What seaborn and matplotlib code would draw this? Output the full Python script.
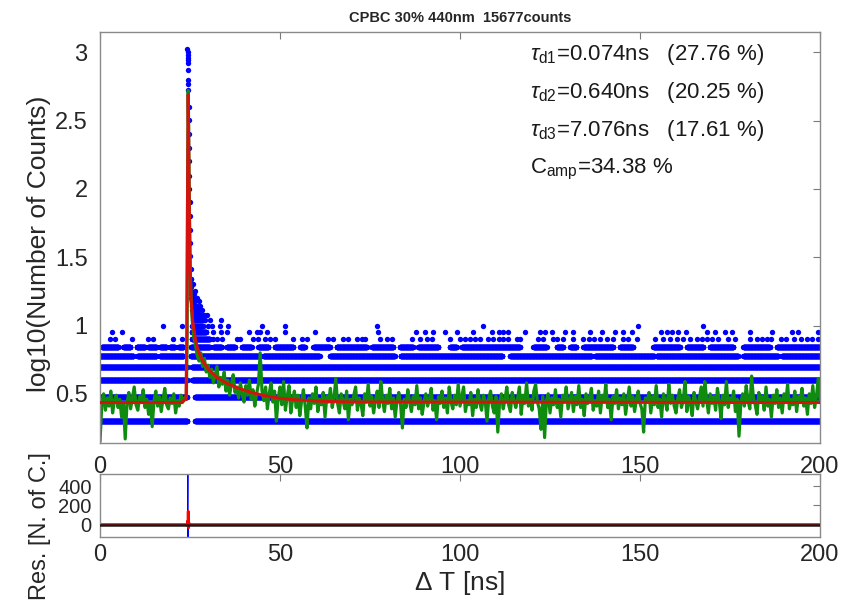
import matplotlib
matplotlib.use('Agg')

import numpy as np
import pandas as pd
import matplotlib.pyplot as plt
import seaborn as sns

# ---- data ---------------------------------------------------------------
channel_ns = 200.0 / 4096          # width of one time channel

# dense bands of photon counts (count level -> time segments in ns)
seg_c2 = [(0, 24.3), (26.4, 200)]
seg_c3 = [(0, 24.2), (26.4, 200)]
seg_c4 = [(0, 24.3), (25.6, 200)]
seg_c5 = [(0, 24.3), (25.5, 200)]
seg_c6 = [(0, 9.3), (10.4, 15.7), (16.6, 23.2), (25.2, 44.4), (45.4, 61.0),
          (63.9, 81.9), (83.5, 111.8), (113.9, 136.6), (137.5, 154.0),
          (154.6, 177.3), (178.7, 188.4), (189.4, 200)]
seg_c7 = [(0.5, 5.1), (6.5, 8.5), (10.2, 12.5), (13.4, 15.7), (16.7, 18.5),
          (19.4, 20.8), (21.8, 23.2), (25.3, 30.5), (31.5, 33.8), (35.2, 37.5),
          (39.4, 42.1), (44.0, 46.8), (48.6, 53.7), (55.6, 56.9), (59.3, 63.9),
          (65.7, 74.1), (75.5, 81.5), (83.3, 87.0), (88.4, 94.0), (97.2, 99.1),
          (100.5, 116.7), (120.4, 124.1), (126.9, 128.7), (130.6, 132.4),
          (134.3, 142.6), (144.4, 148.1), (153.7, 161.1), (163.0, 167.6),
          (169.4, 175.9), (178.7, 186.1), (188.0, 200)]
seg_c8 = [(25.5, 30.5)]
seg_c9 = [(25.5, 29.5)]
seg_c10 = [(25.6, 28.6)]

# sparse single channels
dots_c8 = [2.8, 4.2, 8.8, 13.4, 14.8, 20.4, 22.7, 31.5, 32.4, 33.8, 38.0, 38.9,
           42.6, 44.0, 45.8, 47.2, 48.6, 53.7, 56.0, 57.4, 63.4, 64.8, 67.6,
           69.0, 71.3, 72.7, 73.6, 77.8, 79.6, 81.0, 86.6, 88.9, 90.7, 92.1,
           97.2, 100.0, 101.4, 102.8, 104.2, 105.6, 107.9, 109.3, 110.7, 112.0,
           113.4, 115.7, 116.7, 121.8, 123.1, 125.9, 126.9, 128.7, 131.5, 134.3,
           135.7, 137.1, 138.9, 140.7, 142.6, 145.4, 146.8, 149.1, 154.2, 156.5,
           158.3, 160.2, 162.0, 163.9, 165.7, 167.1, 168.5, 169.9, 171.8, 174.5,
           176.4, 180.6, 182.4, 183.8, 185.2, 186.3, 189.1, 190.5, 192.8, 194.6,
           196.4, 197.8, 199.5]
dots_c9 = [3.2, 6.0, 31.5, 33.5, 35.2, 41.3, 43.5, 44.4, 46.3, 51.4, 59.7, 77.3,
           87.9, 90.3, 92.6, 95.8, 99.1, 103.7, 108.8, 110.7, 112.0, 113.4,
           118.0, 122.2, 123.6, 125.5, 129.2, 131.5, 136.1, 139.4, 143.1, 145.4,
           147.7, 155.8, 157.4, 159.0, 160.6, 162.9, 168.5, 170.8, 173.6, 175.5,
           180.6, 186.6, 192.1, 194.0, 199.5]
dots_c10 = [17.6, 22.7, 30.0, 31.0, 33.3, 35.6, 44.9, 51.4, 76.9, 106.5, 149.5, 167.6]

# channels around the excitation peak
peak_t = [24.30, 24.33, 24.36, 24.39, 24.42, 24.45, 24.48, 24.51, 24.54, 24.57,
          24.60, 24.63, 24.66, 24.70, 24.74, 24.78, 24.82, 24.87, 24.92, 24.98,
          25.05, 25.12, 25.20, 25.30, 25.40, 25.50, 25.60, 25.70,
          25.8, 26.3, 26.8, 27.3, 27.8, 28.3, 28.8, 29.3, 30.6, 33.5,
          25.7, 26.2, 26.7, 27.2, 27.7, 28.2, 29.0, 29.8,
          25.6, 26.1, 26.6, 27.1, 27.6, 28.4,
          25.5, 26.0, 26.5, 27.0, 27.9,
          25.45, 25.9, 26.4, 27.4, 25.4, 25.95, 26.9, 25.35, 26.0, 25.3, 26.3,
          25.25, 25.9, 25.2]
peak_c = [1047, 1000, 955, 912, 871, 832, 741, 631, 589, 525,
          400, 320, 250, 200, 160, 125, 100, 80, 63, 50,
          40, 32, 26, 22, 19, 17, 15, 14,
          11, 11, 11, 11, 11, 11, 11, 11, 11, 11,
          12, 12, 12, 12, 12, 12, 12, 12,
          13, 13, 13, 13, 13, 13,
          14, 14, 14, 14, 14,
          15, 15, 15, 15, 16, 16, 16, 17, 17, 18, 18,
          20, 20, 22]

# smoothed decay (green), 0.5 ns steps before and after the rise
green_pre_y = [0.15, 0.42, 0.50, 0.38, 0.47, 0.41, 0.52, 0.36, 0.45, 0.49,
               0.40, 0.46, 0.33, 0.44, 0.17, 0.43, 0.51, 0.39, 0.47, 0.55,
               0.42, 0.38, 0.48, 0.44, 0.53, 0.40, 0.46, 0.35, 0.43, 0.26,
               0.45, 0.52, 0.41, 0.48, 0.37, 0.46, 0.54, 0.42, 0.39, 0.47,
               0.43, 0.50, 0.36, 0.45, 0.41, 0.49, 0.44, 0.47]
green_peak_t = [24.0, 24.2, 24.35, 24.5, 24.6, 24.75, 24.9, 25.1, 25.3, 25.6,
                26.0, 26.5, 27.0]
green_peak_y = [0.48, 0.95, 2.1, 2.72, 2.5, 2.05, 1.7, 1.38, 1.2, 1.05,
                0.92, 0.86, 0.78]
green_post_y = [0.74, 0.80, 0.70, 0.76, 0.66, 0.71, 0.62, 0.68, 0.58, 0.64,
                0.70, 0.55, 0.62, 0.57, 0.66, 0.52, 0.60, 0.49, 0.57, 0.64,
                0.51, 0.55, 0.47, 0.58, 0.50, 0.44, 0.56, 0.49, 0.60, 0.46,
                0.53, 0.41, 0.50, 0.57, 0.80, 0.52, 0.45, 0.55, 0.39, 0.50,
                0.58, 0.44, 0.52, 0.30, 0.47, 0.55,
                0.42, 0.59, 0.38, 0.48, 0.56, 0.36, 0.46, 0.52, 0.40, 0.49,
                0.34, 0.45, 0.53, 0.41, 0.25, 0.47, 0.39, 0.50, 0.43, 0.55,
                0.37, 0.46, 0.42, 0.51, 0.33, 0.48, 0.44, 0.54, 0.40, 0.47,
                0.61, 0.43, 0.36, 0.50, 0.45, 0.39, 0.52, 0.31, 0.46, 0.42,
                0.49, 0.55, 0.38, 0.47, 0.43, 0.34, 0.50, 0.44, 0.57, 0.41,
                0.48, 0.36, 0.45, 0.52, 0.40, 0.59, 0.46, 0.37, 0.49, 0.43,
                0.54, 0.39, 0.47, 0.33, 0.45, 0.51, 0.42, 0.25, 0.46, 0.40,
                0.53, 0.44, 0.37, 0.48, 0.42, 0.56, 0.39, 0.47, 0.35, 0.44,
                0.50, 0.41, 0.46, 0.54, 0.38, 0.45, 0.31, 0.48, 0.43, 0.52,
                0.40, 0.47, 0.36, 0.55, 0.44, 0.39, 0.49, 0.42, 0.57, 0.41,
                0.48, 0.55, 0.37, 0.45, 0.42, 0.51, 0.34, 0.46, 0.40, 0.53,
                0.43, 0.38, 0.49, 0.45, 0.30, 0.47, 0.52, 0.41, 0.36, 0.48,
                0.22, 0.44, 0.50, 0.39, 0.46, 0.55, 0.42, 0.37, 0.51, 0.45,
                0.40, 0.47, 0.55, 0.35, 0.49, 0.43, 0.58, 0.41, 0.46, 0.38,
                0.52, 0.57, 0.44, 0.39, 0.24, 0.48, 0.18, 0.45, 0.50, 0.36,
                0.47, 0.42, 0.53, 0.40, 0.46, 0.33, 0.49, 0.44, 0.55, 0.39,
                0.45, 0.51, 0.37, 0.48, 0.42, 0.56, 0.40, 0.46, 0.34, 0.50,
                0.43, 0.47, 0.54, 0.38, 0.45, 0.41, 0.52, 0.36, 0.49, 0.44,
                0.57, 0.40, 0.46, 0.31, 0.48, 0.43, 0.53, 0.39, 0.47, 0.42,
                0.50, 0.35, 0.45, 0.55, 0.41, 0.48, 0.37, 0.46, 0.52, 0.43,
                0.39, 0.22, 0.47, 0.44, 0.51, 0.36, 0.48, 0.42, 0.56, 0.40,
                0.46, 0.33, 0.50, 0.45, 0.38, 0.57, 0.43, 0.49, 0.41, 0.36,
                0.47, 0.53, 0.40, 0.45, 0.59, 0.37, 0.48, 0.43, 0.34, 0.51,
                0.44, 0.39, 0.47, 0.55, 0.41, 0.59, 0.46, 0.36, 0.50, 0.43,
                0.48, 0.38, 0.54, 0.45, 0.32, 0.49, 0.42, 0.59, 0.40, 0.47,
                0.44, 0.52, 0.37, 0.46, 0.19, 0.43, 0.50, 0.41, 0.56, 0.45,
                0.39, 0.63, 0.47, 0.42, 0.35, 0.51, 0.44, 0.48, 0.38, 0.55,
                0.41, 0.46, 0.33, 0.49, 0.43, 0.53, 0.40, 0.47, 0.36, 0.50,
                0.44, 0.57, 0.39, 0.46, 0.42, 0.52, 0.37, 0.48, 0.45, 0.54,
                0.41, 0.47, 0.35, 0.50, 0.43, 0.56, 0.40, 0.48, 0.61, 0.45]

# fitted curve (red)
fit_t = [0, 22.8, 23.2, 23.9, 24.1, 24.3, 24.5, 24.6, 24.8, 25.0, 25.3, 25.7,
         26.3, 27.0, 27.8, 29.0, 30.5, 32.5, 35.0, 38.0, 42.0, 46.0, 50.0, 55.0,
         62.0, 70.0, 200]
fit_y = [0.436, 0.436, 0.45, 0.46, 0.9, 1.9, 2.69, 2.45, 1.9, 1.45, 1.2, 1.04,
         0.93, 0.84, 0.78, 0.72, 0.67, 0.62, 0.58, 0.545, 0.51, 0.485, 0.467,
         0.455, 0.445, 0.44, 0.436]

# residuals
res_t = [0, 24.0, 24.3, 24.4, 24.45, 24.5, 24.6, 24.7, 24.8, 25.0, 200]
res_blue = [0, 0, -20, 530, -128, 60, -30, 10, -5, 0, 0]
res_red = [0, 0, -10, 40, 20, 139, -35, 20, -5, 0, 0]

title = 'CPBC 30% 440nm  15677counts'
fit_labels = [r'$\tau_{\mathrm{d1}}$=0.074ns   (27.76 %)',
              r'$\tau_{\mathrm{d2}}$=0.640ns   (20.25 %)',
              r'$\tau_{\mathrm{d3}}$=7.076ns   (17.61 %)',
              r'C$_{\mathrm{amp}}$=34.38 %']
fit_label_y = [2.945, 2.665, 2.385, 2.11]


def expand(segments):
    return np.concatenate([np.arange(a, b, channel_ns) for a, b in segments])


rows = []
for count, segs in [(2, seg_c2), (3, seg_c3), (4, seg_c4), (5, seg_c5),
                    (6, seg_c6), (7, seg_c7), (8, seg_c8), (9, seg_c9),
                    (10, seg_c10)]:
    for t in expand(segs):
        rows.append((t, count))
for count, ts in [(8, dots_c8), (9, dots_c9), (10, dots_c10)]:
    for t in ts:
        rows.append((t, count))
for t, c in zip(peak_t, peak_c):
    rows.append((t, c))
counts = pd.DataFrame(rows, columns=['t', 'counts'])
counts['logc'] = np.log10(counts['counts'])

green_t = np.concatenate([np.arange(0, 24, 0.5), green_peak_t,
                          np.arange(27.5, 200.25, 0.5)])
green_y = np.concatenate([green_pre_y, green_peak_y, green_post_y])
green = pd.DataFrame({'t': green_t, 'y': green_y})
fit = pd.DataFrame({'t': fit_t, 'y': fit_y})
res = pd.DataFrame({'t': res_t, 'blue': res_blue, 'red': res_red})

# ---- plotting -------------------------------------------------------------
sns.set_theme(style='white')
plt.rcParams['font.family'] = ['Liberation Sans', 'DejaVu Sans']
plt.rcParams['mathtext.fontset'] = 'custom'
plt.rcParams['mathtext.rm'] = 'Liberation Sans'
plt.rcParams['mathtext.it'] = 'Liberation Sans:italic'

fig = plt.figure(figsize=(8.54, 6.02), dpi=100)
ax = fig.add_axes([0.1171, 0.2641, 0.8431, 0.6832])
ax2 = fig.add_axes([0.1171, 0.1080, 0.8431, 0.1046])

sns.scatterplot(data=counts, x='t', y='logc', ax=ax, color='#0000ff', s=15,
                linewidth=0, marker='o', legend=False, zorder=1)
sns.lineplot(data=green, x='t', y='y', ax=ax, color='#0f8c0f', lw=2.3,
             sort=False, estimator=None, zorder=2)
sns.lineplot(data=fit, x='t', y='y', ax=ax, color='#d4140c', lw=2.2,
             sort=False, estimator=None, zorder=3)

for lab, yy in zip(fit_labels, fit_label_y):
    ax.text(119.4, yy, lab, fontsize=16, color='k', va='baseline', ha='left')

ax.set_title(title, fontsize=10.5, fontweight='bold', pad=7)
ax.set_xlim(0, 200)
ax.set_ylim(0.14, 3.15)
ax.set_xticks([0, 50, 100, 150, 200])
ax.set_yticks([0.5, 1, 1.5, 2, 2.5, 3])
ax.set_yticklabels(['0.5', '1', '1.5', '2', '2.5', '3'])
ax.set_xlabel('')
ax.set_ylabel('log10(Number of Counts)', fontsize=19)
ax.yaxis.set_label_coords(-0.068, 0.485)

sns.lineplot(data=res, x='t', y='blue', ax=ax2, color='#0000ff', lw=0.8,
             sort=False, estimator=None)
sns.lineplot(data=res, x='t', y='red', ax=ax2, color='#ff0000', lw=2.0,
             sort=False, estimator=None)
ax2.axhline(0, color='#1a1a1a', lw=1.8, zorder=5)
ax2.set_xlim(0, 200)
ax2.set_ylim(-130, 530)
ax2.set_xticks([0, 50, 100, 150, 200])
ax2.set_yticks([0, 200, 400])
ax2.set_xlabel(r'$\Delta$ T [ns]', fontsize=19, labelpad=2)
ax2.set_ylabel('Res. [N. of C.]', fontsize=17)
ax2.yaxis.set_label_coords(-0.068, 0.17)

for a, pad in [(ax, 9), (ax2, 5)]:
    a.tick_params(direction='in', top=True, right=True, length=5, width=0.8,
                  color='#7a7a7a', labelsize=17, labelcolor='#262626')
    a.tick_params(axis='x', pad=pad)
    a.tick_params(axis='y', pad=9)
    for sp in a.spines.values():
        sp.set_color('#8a8a8a')
        sp.set_linewidth(1.0)
ax2.tick_params(axis='y', labelsize=14.5, pad=6)

fig.savefig('out.png', dpi=100)
